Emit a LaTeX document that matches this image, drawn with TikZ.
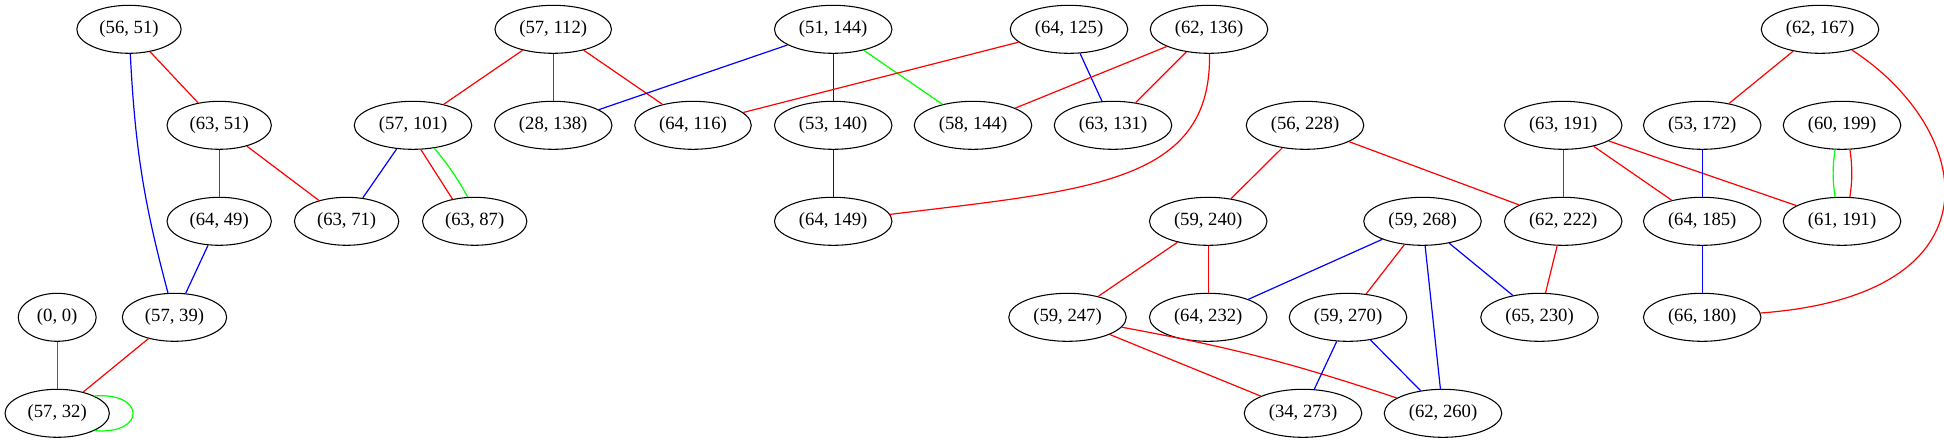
\documentclass[tikz,border=0pt]{standalone}
\usepackage{fontspec}
\setmainfont{Liberation Serif}
\usetikzlibrary{shapes.geometric}
\definecolor{gvred}{HTML}{FF0000}
\definecolor{gvblue}{HTML}{0000FF}
\definecolor{gvgreen}{HTML}{00FF00}
\definecolor{gvpurple}{HTML}{A020F0}
\begin{document}
\begin{tikzpicture}[x=0.75pt, y=-0.75pt,
  vertex/.style={draw, ellipse, line width=0.8pt, minimum height=36pt, inner xsep=5.5pt, inner ysep=1pt, font=\fontsize{14}{16}\selectfont},
  redline/.style={gvred, line width=0.9pt},
  blueline/.style={gvblue, line width=0.9pt},
  greenline/.style={gvgreen, line width=0.9pt},
  purpleline/.style={gvpurple, line width=0.9pt}]
  \useasboundingbox (0,0) rectangle (1944,443);

  % Row 1
  \node[vertex] (n5651) at (129,29.3) {(56, 51)};
  \node[vertex] (n57112) at (553.2,29.3) {(57, 112)};
  \node[vertex] (n51144) at (833.2,29.3) {(51, 144)};
  \node[vertex] (n64125) at (1069,29.3) {(64, 125)};
  \node[vertex] (n62136) at (1209,29.3) {(62, 136)};
  \node[vertex] (n62167) at (1820,29.3) {(62, 167)};

  % Row 2
  \node[vertex] (n6351) at (219.2,125.3) {(63, 51)};
  \node[vertex] (n57101) at (413,125.3) {(57, 101)};
  \node[vertex] (n28138) at (553.2,125.3) {(28, 138)};
  \node[vertex] (n64116) at (693,125.3) {(64, 116)};
  \node[vertex] (n53140) at (833.2,125.3) {(53, 140)};
  \node[vertex] (n58144) at (973,125.3) {(58, 144)};
  \node[vertex] (n63131) at (1113,125.3) {(63, 131)};
  \node[vertex] (n56228) at (1305,125.3) {(56, 228)};
  \node[vertex] (n63191) at (1563.2,125.3) {(63, 191)};
  \node[vertex] (n53172) at (1702.2,125.3) {(53, 172)};
  \node[vertex] (n60199) at (1842,125.3) {(60, 199)};

  % Row 3
  \node[vertex] (n6449) at (219.2,221.3) {(64, 49)};
  \node[vertex] (n6371) at (346.6,221.3) {(63, 71)};
  \node[vertex] (n6387) at (474.7,221.3) {(63, 87)};
  \node[vertex] (n64149) at (833.2,221.3) {(64, 149)};
  \node[vertex] (n59240) at (1208.2,221.3) {(59, 240)};
  \node[vertex] (n59268) at (1422.5,221.3) {(59, 268)};
  \node[vertex] (n62222) at (1563.2,221.3) {(62, 222)};
  \node[vertex] (n64185) at (1702.2,221.3) {(64, 185)};
  \node[vertex] (n61191) at (1842,221.3) {(61, 191)};

  % Row 4
  \node[vertex] (n00) at (57.2,317.3) {(0, 0)};
  \node[vertex] (n5739) at (174.5,317.3) {(57, 39)};
  \node[vertex] (n59247) at (1067.5,317.3) {(59, 247)};
  \node[vertex] (n64232) at (1208.2,317.3) {(64, 232)};
  \node[vertex] (n59270) at (1348,317.3) {(59, 270)};
  \node[vertex] (n65230) at (1539.5,317.3) {(65, 230)};
  \node[vertex] (n66180) at (1702.2,317.3) {(66, 180)};

  % Row 5
  \node[vertex] (n5732) at (57.2,413.3) {(57, 32)};
  \node[vertex] (n34273) at (1303,413.3) {(34, 273)};
  \node[vertex] (n62260) at (1443,413.3) {(62, 260)};

  % Edges, left part
  \draw[redline] (n5651) -- (n6351);
  \draw[blueline] (n5651) to[bend right=6] (n5739);
  \draw[redline] (n6351) -- (n6449);
  \draw[redline] (n6351) -- (n6371);
  \draw[blueline] (n6449) -- (n5739);
  \draw[purpleline] (n00) -- (n5732);
  \draw[redline] (n5739) -- (n5732);
  \draw[greenline] (n5732.25) .. controls (146,392) and (146,435) .. (n5732.-25);
  \draw[redline] (n57112) -- (n57101);
  \draw[redline] (n57112) -- (n28138);
  \draw[redline] (n57112) -- (n64116);
  \draw[blueline] (n57101) -- (n6371);
  \draw[redline] (n57101.-72) -- (n6387.135);
  \draw[greenline] (n57101.-47) to[bend left=5] (n6387.106);

  % Edges, middle part
  \draw[blueline] (n51144) -- (n28138);
  \draw[blueline] (n51144) -- (n53140);
  \draw[greenline] (n51144) -- (n58144);
  \draw[redline] (n64125) -- (n64116);
  \draw[blueline] (n64125) -- (n63131);
  \draw[redline] (n62136) -- (n58144);
  \draw[redline] (n62136) -- (n63131);
  \draw[redline] (n62136) .. controls (1212,183) and (1090,190) .. (n64149);
  \draw[blueline] (n53140) -- (n64149);
  \draw[redline] (n56228) -- (n59240);
  \draw[redline] (n56228) -- (n62222);
  \draw[redline] (n59240) -- (n59247);
  \draw[redline] (n59240) -- (n64232);
  \draw[redline] (n59247) -- (n34273);
  \draw[redline] (n59247) to[bend left=4] (n62260);

  % Edges, right part
  \draw[blueline] (n59268) -- (n64232);
  \draw[redline] (n59268) -- (n59270);
  \draw[blueline] (n59268) -- (n65230);
  \draw[blueline] (n59268) -- (n62260);
  \draw[blueline] (n59270) -- (n34273);
  \draw[blueline] (n59270) -- (n62260);
  \draw[redline] (n63191) -- (n62222);
  \draw[redline] (n63191) -- (n64185);
  \draw[redline] (n63191) -- (n61191);
  \draw[redline] (n62222) -- (n65230);
  \draw[redline] (n62167) -- (n53172);
  \draw[redline] (n62167) .. controls (1975,130) and (2005,295) .. (n66180);
  \draw[blueline] (n53172) -- (n64185);
  \draw[greenline] (n60199.-106) to[bend right=8] (n61191.106);
  \draw[redline] (n60199.-72) to[bend left=8] (n61191.72);
  \draw[blueline] (n64185) -- (n66180);
\end{tikzpicture}
\end{document}
